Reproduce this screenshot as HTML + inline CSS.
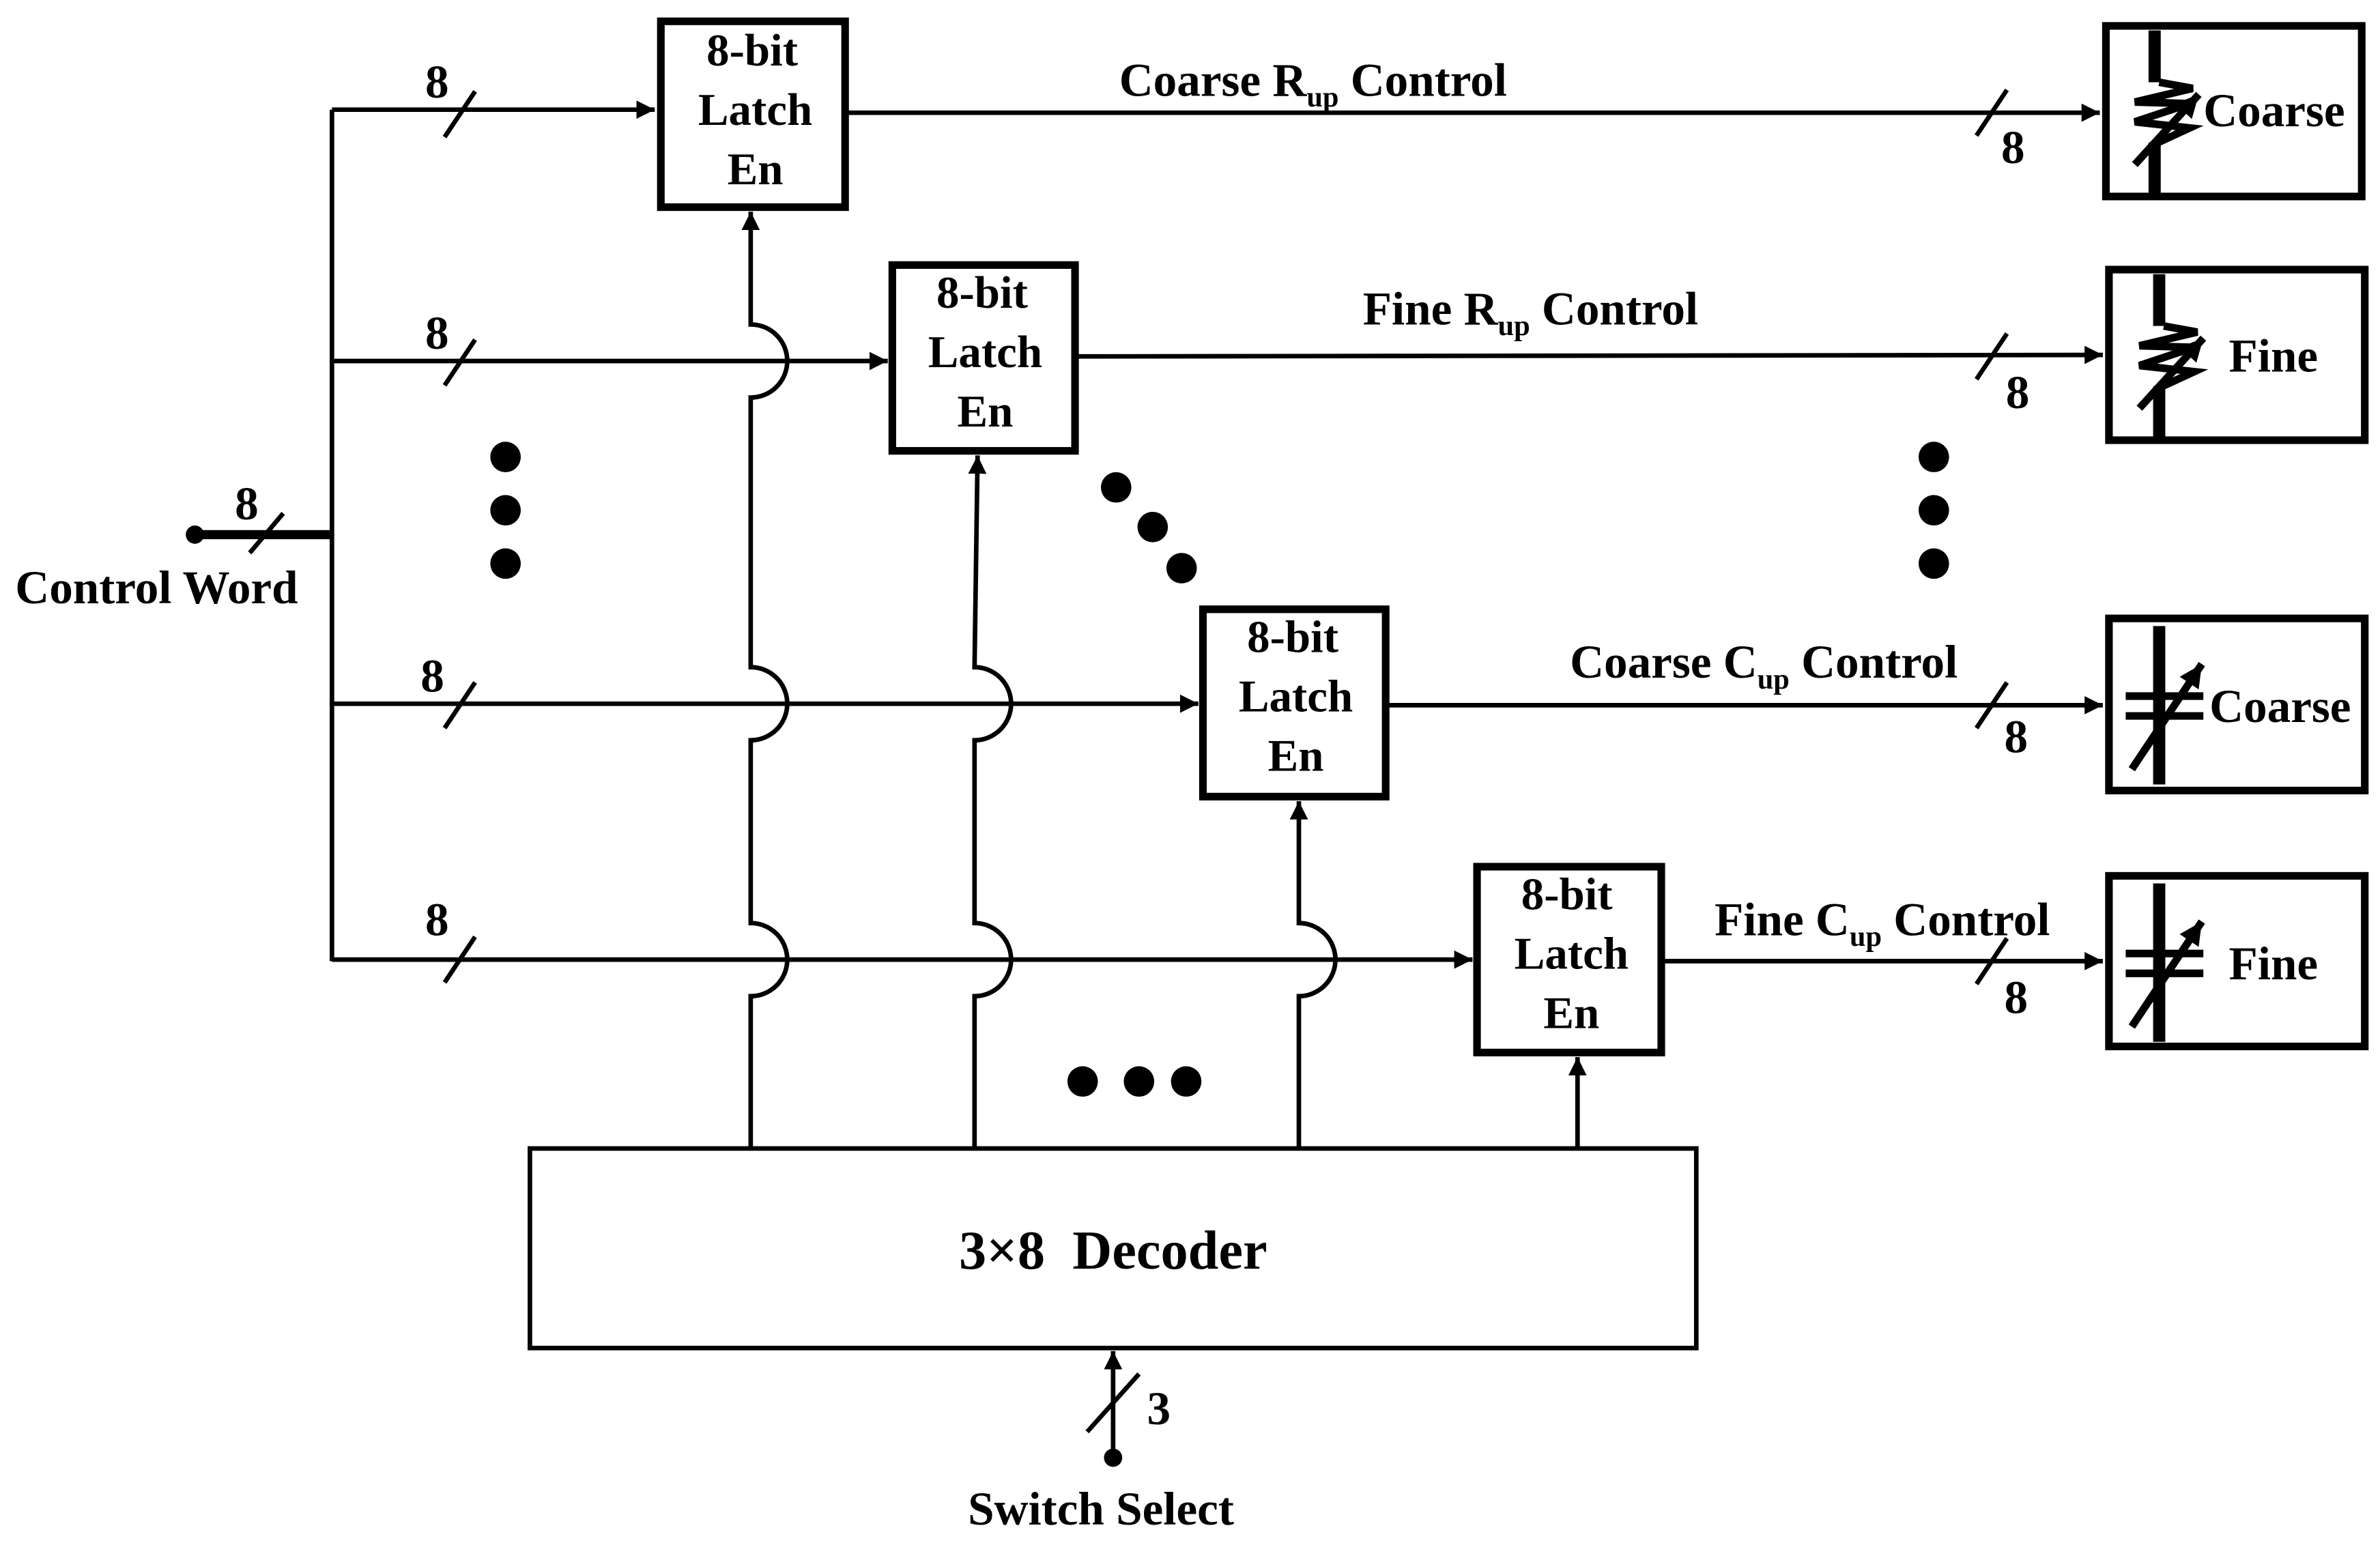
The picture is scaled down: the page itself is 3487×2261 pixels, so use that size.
<!DOCTYPE html>
<html><head><meta charset="utf-8"><style>
html,body{margin:0;padding:0;background:#fff;}
svg{display:block;}
text{font-family:"Liberation Serif","DejaVu Serif","Times New Roman",serif;font-weight:bold;fill:#000;}
</style></head><body>
<svg width="3487" height="2261" viewBox="0 0 1563 1013" preserveAspectRatio="none" xmlns="http://www.w3.org/2000/svg">
<defs>
<marker id="ar" viewBox="0 0 10 10" refX="10" refY="5" markerWidth="4" markerHeight="4" orient="auto" markerUnits="strokeWidth">
<path d="M0,0 L10,5 L0,10 z" fill="#000"/></marker>
<marker id="ar2" viewBox="0 0 10 10" refX="10" refY="5" markerWidth="3" markerHeight="3" orient="auto" markerUnits="strokeWidth">
<path d="M0,0 L10,5 L0,10 z" fill="#000"/></marker>
</defs>
<g stroke="#000" fill="none" stroke-width="3">
<line x1="128" y1="351" x2="218" y2="351" stroke-width="6"/>
<line x1="218" y1="72" x2="218" y2="631"/>
<line x1="218" y1="72" x2="430" y2="72" marker-end="url(#ar)"/>
<line x1="218" y1="237" x2="583" y2="237" marker-end="url(#ar)"/>
<line x1="218" y1="462" x2="787" y2="462" marker-end="url(#ar)"/>
<line x1="218" y1="630" x2="967" y2="630" marker-end="url(#ar)"/>
<line x1="164" y1="363" x2="186" y2="337"/>
<line x1="292" y1="90" x2="312" y2="60"/>
<line x1="292" y1="253" x2="312" y2="223"/>
<line x1="292" y1="478" x2="312" y2="448"/>
<line x1="292" y1="645" x2="312" y2="615"/>
<line x1="1298" y1="89" x2="1318" y2="59"/>
<line x1="1298" y1="249" x2="1318" y2="219"/>
<line x1="1298" y1="478" x2="1318" y2="448"/>
<line x1="1298" y1="646" x2="1318" y2="616"/>
<line x1="714" y1="940" x2="748" y2="902"/>
<line x1="556" y1="74" x2="1379" y2="74" marker-end="url(#ar)"/>
<line x1="707" y1="234" x2="1381" y2="233" marker-end="url(#ar)"/>
<line x1="911" y1="463" x2="1381" y2="463" marker-end="url(#ar)"/>
<line x1="1092" y1="631" x2="1381" y2="631" marker-end="url(#ar)"/>
<path d="M493,754 L493,654 A24,24 0 0 0 493,606 L493,486 A24,24 0 0 0 493,438 L493,261 A24,24 0 0 0 493,213 L493,139" marker-end="url(#ar)"/>
<path d="M640,754 L640,654 A24,24 0 0 0 640,606 L640,486 A24,24 0 0 0 640,438 L642,299" marker-end="url(#ar)"/>
<path d="M853,754 L853,654 A24,24 0 0 0 853,606 L853,526" marker-end="url(#ar)"/>
<line x1="1036" y1="754" x2="1036" y2="694" marker-end="url(#ar)"/>
<line x1="731" y1="957" x2="731" y2="887" marker-end="url(#ar)"/>
<rect x="434" y="14" width="121" height="122" stroke-width="5"/>
<rect x="586" y="174" width="120" height="122" stroke-width="5"/>
<rect x="790" y="400" width="120" height="123" stroke-width="5"/>
<rect x="970" y="569" width="121" height="122" stroke-width="5"/>
<rect x="348" y="754" width="766" height="131" stroke-width="3"/>
<rect x="1383" y="17" width="168" height="112" stroke-width="5"/>
<rect x="1385" y="177" width="168" height="112" stroke-width="5"/>
<rect x="1385" y="406" width="168" height="113" stroke-width="5"/>
<rect x="1385" y="575" width="168" height="112" stroke-width="5"/>
</g>
<g fill="#000">
<circle cx="128" cy="351" r="6"/>
<circle cx="731" cy="957" r="6"/>
<circle cx="332" cy="300" r="10"/><circle cx="332" cy="335" r="10"/><circle cx="332" cy="370" r="10"/>
<circle cx="733" cy="320" r="10"/><circle cx="757" cy="346" r="10"/><circle cx="776" cy="373" r="10"/>
<circle cx="1270" cy="300" r="10"/><circle cx="1270" cy="335" r="10"/><circle cx="1270" cy="370" r="10"/>
<circle cx="711" cy="710" r="10"/><circle cx="748" cy="710" r="10"/><circle cx="779" cy="710" r="10"/>
</g>
<g stroke="#000" fill="none">
<g>
<line x1="1415" y1="20" x2="1415" y2="54" stroke-width="8"/>
<line x1="1415" y1="94" x2="1415" y2="128" stroke-width="8"/>
<polyline points="1418,54 1440,58 1402,67 1438,68 1402,80 1438,84 1412,96" stroke-width="5"/>
<line x1="1402" y1="108" x2="1444" y2="62" stroke-width="5" marker-end="url(#ar2)"/>
</g>
<g transform="translate(3,160)">
<line x1="1415" y1="20" x2="1415" y2="54" stroke-width="8"/>
<line x1="1415" y1="94" x2="1415" y2="128" stroke-width="8"/>
<polyline points="1418,54 1440,58 1402,67 1438,68 1402,80 1438,84 1412,96" stroke-width="5"/>
<line x1="1402" y1="108" x2="1444" y2="62" stroke-width="5" marker-end="url(#ar2)"/>
</g>
<g>
<line x1="1418" y1="411" x2="1418" y2="515" stroke-width="8"/>
<line x1="1396" y1="457" x2="1447" y2="457" stroke-width="5"/>
<line x1="1396" y1="470" x2="1447" y2="470" stroke-width="5"/>
<line x1="1400" y1="505" x2="1446" y2="436" stroke-width="5" marker-end="url(#ar2)"/>
</g>
<g transform="translate(0,169)">
<line x1="1418" y1="411" x2="1418" y2="515" stroke-width="8"/>
<line x1="1396" y1="457" x2="1447" y2="457" stroke-width="5"/>
<line x1="1396" y1="470" x2="1447" y2="470" stroke-width="5"/>
<line x1="1400" y1="505" x2="1446" y2="436" stroke-width="5" marker-end="url(#ar2)"/>
</g>
</g>
<g font-size="31">
<text x="162" y="341" text-anchor="middle">8</text>
<text x="10" y="396">Control Word</text>
<text x="287" y="64" text-anchor="middle">8</text>
<text x="287" y="229" text-anchor="middle">8</text>
<text x="284" y="454" text-anchor="middle">8</text>
<text x="287" y="614" text-anchor="middle">8</text>
<text x="1322" y="107" text-anchor="middle">8</text>
<text x="1325" y="268" text-anchor="middle">8</text>
<text x="1324" y="494" text-anchor="middle">8</text>
<text x="1324" y="665" text-anchor="middle">8</text>
<text x="761" y="935" text-anchor="middle">3</text>
<text x="723" y="1001" text-anchor="middle">Switch Select</text>
<text x="735" y="63">Coarse R<tspan font-size="19" dy="7">up</tspan><tspan dy="-7"> Control</tspan></text>
<text x="895" y="213">Fine R<tspan font-size="19" dy="7">up</tspan><tspan dy="-7"> Control</tspan></text>
<text x="1031" y="445">Coarse C<tspan font-size="19" dy="7">up</tspan><tspan dy="-7"> Control</tspan></text>
<text x="1126" y="614">Fine C<tspan font-size="19" dy="7">up</tspan><tspan dy="-7"> Control</tspan></text>
<g text-anchor="middle" font-size="30">
<text x="494" y="43">8-bit</text><text x="496" y="82">Latch</text><text x="496" y="121">En</text>
<text x="645" y="202">8-bit</text><text x="647" y="241">Latch</text><text x="647" y="280">En</text>
<text x="849" y="428">8-bit</text><text x="851" y="467">Latch</text><text x="851" y="506">En</text>
<text x="1029" y="597">8-bit</text><text x="1032" y="636">Latch</text><text x="1032" y="675">En</text>
</g>
<text x="1447" y="83">Coarse</text>
<text x="1493" y="244" text-anchor="middle">Fine</text>
<text x="1451" y="474">Coarse</text>
<text x="1493" y="643" text-anchor="middle">Fine</text>
</g>
<text x="731" y="833" font-size="36" text-anchor="middle" xml:space="preserve">3×8  Decoder</text>
</svg>
</body></html>
